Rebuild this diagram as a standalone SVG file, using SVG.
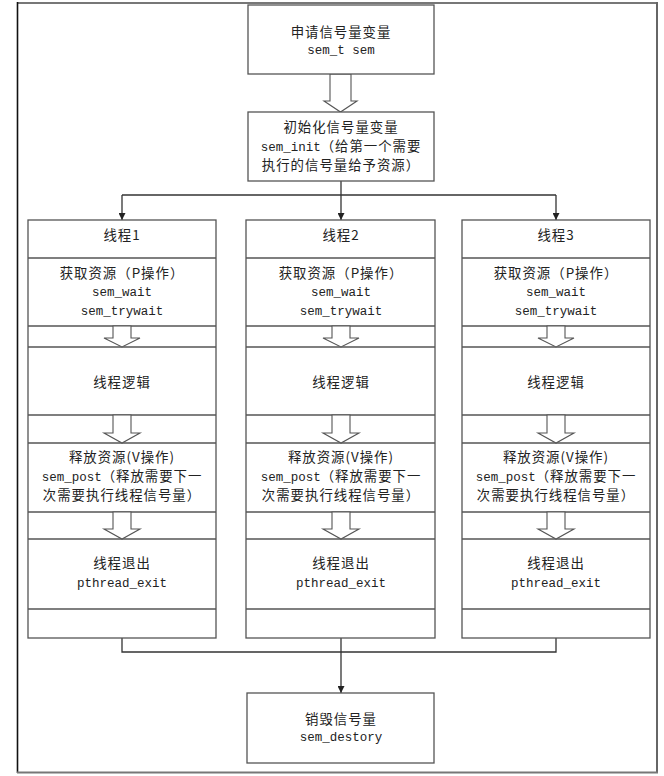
<svg xmlns="http://www.w3.org/2000/svg" width="664" height="776" viewBox="0 0 664 776">
<style>
.bx{fill:#fff;stroke:#555;stroke-width:1.3}
.ln{fill:none;stroke:#555;stroke-width:1.3}
.ha{fill:#fff;stroke:#555;stroke-width:1.1}
.cn{fill:none;stroke:#333;stroke-width:1.3}
text{font-family:"Noto Sans CJK SC","Liberation Sans",sans-serif;font-size:13.4px;letter-spacing:1px;fill:#222;text-anchor:middle}
.m{font-family:"Liberation Mono","Noto Sans CJK SC",monospace;font-size:12.5px;letter-spacing:0}
</style>
<defs>
<marker id="ah" viewBox="0 0 10 10" refX="10" refY="5" markerWidth="7" markerHeight="7" markerUnits="userSpaceOnUse" orient="auto">
<path d="M0,0 L10,5 L0,10 z" fill="#222"/>
</marker>
</defs>
<rect width="664" height="776" fill="#fff"/>
<g id="frame">
<line x1="17" y1="3" x2="657" y2="3" stroke="#777" stroke-width="2"/>
<line x1="17.5" y1="2" x2="17.5" y2="773" stroke="#111" stroke-width="1.6"/>
<line x1="657" y1="2" x2="657" y2="773" stroke="#666" stroke-width="2"/>
<line x1="17" y1="772.5" x2="658" y2="772.5" stroke="#777" stroke-width="2"/>
</g>
<g id="connectors">
<polyline class="cn" points="341,181 341,195"/>
<polyline class="cn" points="122,195 556,195"/>
<line class="cn" x1="122" y1="195" x2="122" y2="220" marker-end="url(#ah)"/>
<line class="cn" x1="341" y1="195" x2="341" y2="220" marker-end="url(#ah)"/>
<line class="cn" x1="556" y1="195" x2="556" y2="220" marker-end="url(#ah)"/>
<polyline class="cn" points="122,638 122,652 556,652 556,638"/>
<line class="cn" x1="341" y1="638" x2="341" y2="693" marker-end="url(#ah)"/>
<polygon class="ha" points="330,74 351,74 351,101 357,101 340.5,112 324,101 330,101"/>
</g>
<g id="n_declare">
<rect class="bx" x="248" y="5" width="186" height="69"/>
<text x="341" y="37">申请信号量变量</text>
<text x="341" y="54" class="m" xml:space="preserve">sem_t sem</text>
</g>
<g id="n_init">
<rect class="bx" x="248" y="112" width="186" height="69"/>
<text x="341" y="132">初始化信号量变量</text>
<text x="341" y="151"><tspan class="m">sem_init</tspan>（给第一个需要</text>
<text x="341" y="170">执行的信号量给予资源）</text>
</g>
<g id="n_thread1">
<rect class="bx" x="28" y="220" width="188" height="418"/>
<path class="ln" d="M28,258H216M28,326H216M28,347H216M28,415H216M28,443H216M28,512H216M28,539H216M28,609H216"/>
<polygon class="ha" points="113,326 131,326 131,338 140,338 122,347 104,338 113,338"/>
<polygon class="ha" points="113,415 131,415 131,433 140,433 122,443 104,433 113,433"/>
<polygon class="ha" points="113,512 131,512 131,529 140,529 122,539 104,529 113,529"/>
<text x="122" y="240">线程1</text>
<text x="122" y="278">获取资源（P操作）</text>
<text x="122" y="296" class="m">sem_wait</text>
<text x="122" y="315" class="m">sem_trywait</text>
<text x="122" y="387">线程逻辑</text>
<text x="122" y="462">释放资源(V操作)</text>
<text x="122" y="481"><tspan class="m">sem_post</tspan>（释放需要下一</text>
<text x="122" y="500">次需要执行线程信号量）</text>
<text x="122" y="568">线程退出</text>
<text x="122" y="587" class="m">pthread_exit</text>
</g>
<g id="n_thread2">
<rect class="bx" x="246" y="220" width="189" height="418"/>
<path class="ln" d="M246,258H435M246,326H435M246,347H435M246,415H435M246,443H435M246,512H435M246,539H435M246,609H435"/>
<polygon class="ha" points="332,326 350,326 350,338 359,338 341,347 323,338 332,338"/>
<polygon class="ha" points="332,415 350,415 350,433 359,433 341,443 323,433 332,433"/>
<polygon class="ha" points="332,512 350,512 350,529 359,529 341,539 323,529 332,529"/>
<text x="341" y="240">线程2</text>
<text x="341" y="278">获取资源（P操作）</text>
<text x="341" y="296" class="m">sem_wait</text>
<text x="341" y="315" class="m">sem_trywait</text>
<text x="341" y="387">线程逻辑</text>
<text x="341" y="462">释放资源(V操作)</text>
<text x="341" y="481"><tspan class="m">sem_post</tspan>（释放需要下一</text>
<text x="341" y="500">次需要执行线程信号量）</text>
<text x="341" y="568">线程退出</text>
<text x="341" y="587" class="m">pthread_exit</text>
</g>
<g id="n_thread3">
<rect class="bx" x="462" y="220" width="188" height="418"/>
<path class="ln" d="M462,258H650M462,326H650M462,347H650M462,415H650M462,443H650M462,512H650M462,539H650M462,609H650"/>
<polygon class="ha" points="547,326 565,326 565,338 574,338 556,347 538,338 547,338"/>
<polygon class="ha" points="547,415 565,415 565,433 574,433 556,443 538,433 547,433"/>
<polygon class="ha" points="547,512 565,512 565,529 574,529 556,539 538,529 547,529"/>
<text x="556" y="240">线程3</text>
<text x="556" y="278">获取资源（P操作）</text>
<text x="556" y="296" class="m">sem_wait</text>
<text x="556" y="315" class="m">sem_trywait</text>
<text x="556" y="387">线程逻辑</text>
<text x="556" y="462">释放资源(V操作)</text>
<text x="556" y="481"><tspan class="m">sem_post</tspan>（释放需要下一</text>
<text x="556" y="500">次需要执行线程信号量）</text>
<text x="556" y="568">线程退出</text>
<text x="556" y="587" class="m">pthread_exit</text>
</g>
<g id="n_destroy">
<rect class="bx" x="247" y="693" width="187" height="70"/>
<text x="341" y="724">销毁信号量</text>
<text x="341" y="741" class="m">sem_destory</text>
</g>
</svg>
